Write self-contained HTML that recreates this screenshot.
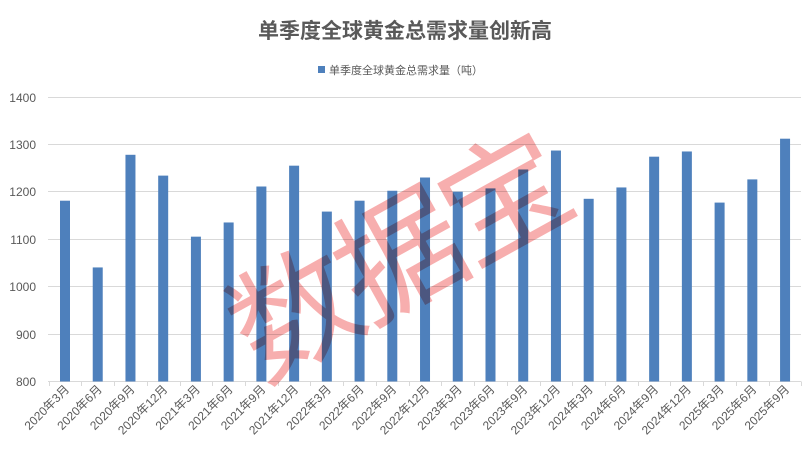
<!DOCTYPE html>
<html><head><meta charset="utf-8"><style>
html,body{margin:0;padding:0;background:#fff;}
svg{display:block;font-family:"Liberation Sans","Noto Sans CJK SC",sans-serif;}
</style></head><body>
<svg width="810" height="464" viewBox="0 0 810 464" xmlns="http://www.w3.org/2000/svg">
<text x="405" y="38" text-anchor="middle" font-size="21" font-weight="bold" fill="#595959">单季度全球黄金总需求量创新高</text>
<rect x="318" y="66" width="7" height="7" fill="#4e80bc"/>
<text x="329" y="74" font-size="11" fill="#595959">单季度全球黄金总需求量（吨）</text>
<g stroke="#d9d9d9" stroke-width="1">
<line x1="48" x2="801" y1="97.5" y2="97.5"/>
<line x1="48" x2="801" y1="144.5" y2="144.5"/>
<line x1="48" x2="801" y1="191.5" y2="191.5"/>
<line x1="48" x2="801" y1="239.5" y2="239.5"/>
<line x1="48" x2="801" y1="286.5" y2="286.5"/>
<line x1="48" x2="801" y1="334.5" y2="334.5"/>
<line x1="48" x2="801" y1="381.5" y2="381.5"/>
</g>
<g id="ticks" stroke="#d9d9d9" stroke-width="1"></g>
<g font-size="12" fill="#595959" text-anchor="end">
<text x="36" y="102">1400</text><text x="36" y="149">1300</text><text x="36" y="196">1200</text>
<text x="36" y="244">1100</text><text x="36" y="291">1000</text><text x="36" y="339">900</text><text x="36" y="386">800</text>
</g>
<g id="bars" fill="#4e80bc"></g>
<g id="labels" font-size="12" fill="#595959" text-anchor="end"></g>
<text x="0" y="44" font-size="126" fill="rgb(244,140,140)" fill-opacity="0.7" style="mix-blend-mode:multiply" text-anchor="middle" letter-spacing="-6" transform="translate(398,258) rotate(-29)" font-family="'Noto Sans CJK SC',sans-serif">数据宝</text>
<script>
var v=[1182,1041,1279,1235,1106,1136,1212,1256,1159,1182,1203,1231,1201,1208,1248,1288,1186,1210,1275,1286,1178,1227,1313];
var l=["2020年3月","2020年6月","2020年9月","2020年12月","2021年3月","2021年6月","2021年9月","2021年12月","2022年3月","2022年6月","2022年9月","2022年12月","2023年3月","2023年6月","2023年9月","2023年12月","2024年3月","2024年6月","2024年9月","2024年12月","2025年3月","2025年6月","2025年9月"];
var b=document.getElementById('bars'),t=document.getElementById('labels'),tk=document.getElementById('ticks'),ns="http://www.w3.org/2000/svg";
for(var i=0;i<=23;i++){var x=Math.round(48.6+i*32.73)+0.5;var k=document.createElementNS(ns,'line');k.setAttribute('x1',x);k.setAttribute('x2',x);k.setAttribute('y1',381.5);k.setAttribute('y2',386);tk.appendChild(k);}
for(var i=0;i<23;i++){var cx=65+i*32.73;var y=381.5-(v[i]-800)*0.4733;
var r=document.createElementNS(ns,'rect');r.setAttribute('x',cx-5);r.setAttribute('y',y);r.setAttribute('width',10);r.setAttribute('height',381.5-y);b.appendChild(r);
var s=document.createElementNS(ns,'text');s.setAttribute('transform','translate('+(cx+5)+',390) rotate(-45)');s.textContent=l[i];t.appendChild(s);}
</script>
</svg>
</body></html>
